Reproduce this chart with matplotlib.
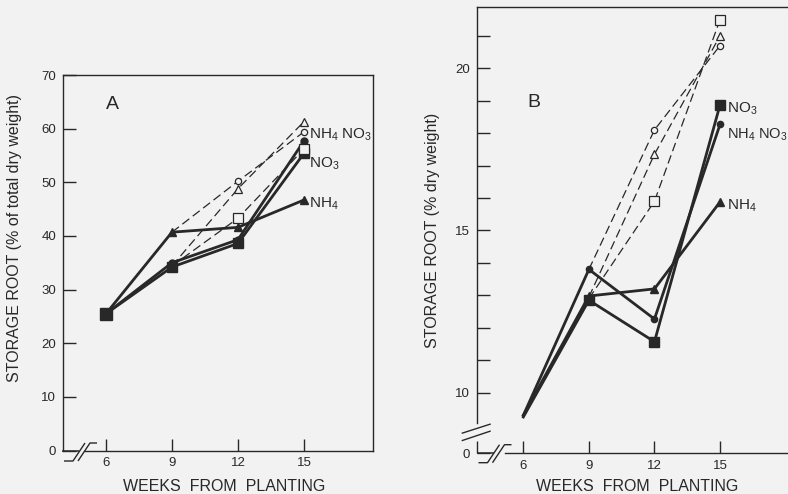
import matplotlib
matplotlib.use('Agg')
import matplotlib.pyplot as plt
from matplotlib.lines import Line2D

plt.rcParams['font.family'] = ['Liberation Sans', 'DejaVu Sans']
plt.rcParams['mathtext.default'] = 'regular'

INK = '#282828'
BG = '#f2f2f2'

# weeks from planting
weeks = [6, 9, 12, 15]
weeks_late = [9, 12, 15]

# panel A: storage root, % of total dry weight
a_no3 = [25.5, 34.2, 38.6, 55.4]
a_nh4no3 = [25.5, 35.0, 39.3, 57.7]
a_nh4 = [25.5, 40.7, 41.6, 46.7]
a_open_sq = [34.4, 43.3, 56.2]
a_open_ci = [40.7, 50.2, 59.4]
a_open_tr = [34.4, 48.8, 61.3]

# panel B: storage root, % dry weight
b_no3 = [9.25, 12.85, 11.57, 18.87]
b_nh4no3 = [9.3, 13.8, 12.27, 18.27]
b_nh4 = [9.3, 12.98, 13.2, 15.88]
b_open_sq = [12.9, 15.9, 21.5]
b_open_ci = [13.8, 18.1, 20.7]
b_open_tr = [12.95, 17.35, 21.0]

a_yticks = [0, 10, 20, 30, 40, 50, 60, 70]
b_yticks = [8.14, 10, 15, 20]
b_yticklabels = ['0', '10', '15', '20']
b_yminor = [11, 12, 13, 14, 16, 17, 18, 19, 21]
xticklabels = ['6', '9', '12', '15']

W, H = 788, 494
fig = plt.figure(figsize=(W / 100, H / 100), dpi=100, facecolor=BG)


def px_axes(l, t, r, b):
    """Axes placed by pixel edges (top-left origin)"""
    ax = fig.add_axes([l / W, 1 - b / H, (r - l) / W, (b - t) / H])
    ax.set_facecolor(BG)
    return ax


def px_line(xs, ys, lw=1.0):
    fig.add_artist(Line2D([x / W for x in xs], [1 - y / H for y in ys],
                          color=INK, lw=lw, transform=fig.transFigure,
                          solid_capstyle='butt'))


def x_break(x0, y0):
    # "//" symbol on the bottom axis, x0/y0 = corner of the axes in pixels
    px_line([x0, x0 + 17], [y0, y0], lw=1.1)
    px_line([x0 + 2, x0 + 11, x0 + 23], [y0 + 10, y0 + 10, y0 - 8], lw=1.0)
    px_line([x0 + 16, x0 + 28, x0 + 35], [y0 + 10, y0 - 8, y0 - 8], lw=1.0)


def style_axes(ax):
    ax.tick_params(direction='in', length=9, width=1.0, colors=INK,
                   labelsize=9.5, pad=5)
    ax.tick_params(which='minor', direction='in', length=9, width=1.0, colors=INK)
    for s in ax.spines.values():
        s.set_color(INK)
        s.set_linewidth(1.0)


def draw_series(ax, solid, dashed, first_marker):
    lw_solid = 2.0
    for vals, mk, ms in solid:
        every = [0, 1, 2, 3] if first_marker else [1, 2, 3]
        ax.plot(weeks, vals, '-', marker=mk, ms=ms, color=INK, mfc=INK,
                mec=INK, lw=lw_solid, markevery=every, zorder=3)
    for vals, mk, ms in dashed:
        ax.plot(weeks_late, vals, color=INK, lw=0.9, dashes=(7, 3.5), zorder=2)
        ax.plot(weeks_late[1:], vals[1:], ls='none', marker=mk, ms=ms,
                mfc=BG, mec=INK, mew=0.9, zorder=4)


# ---------------- Panel A ----------------
axA = px_axes(63, 75, 373, 450.5)
style_axes(axA)
axA.set_xlim(4.045, 18.14)
axA.set_ylim(0, 70)
axA.set_xticks(weeks)
axA.set_xticklabels(xticklabels)
axA.set_yticks(a_yticks)
axA.spines['bottom'].set_bounds(5.05, 18.14)

draw_series(axA,
            [(a_nh4, '^', 5.5), (a_nh4no3, 'o', 5), (a_no3, 's', 7)],
            [(a_open_sq, 's', 6.5), (a_open_ci, 'o', 4.5), (a_open_tr, '^', 6)],
            first_marker=True)
axA.plot(weeks[:1], a_no3[:1], 's', ms=9, color=INK, zorder=5)

axA.text(6.0, 64.5, 'A', fontsize=14, color=INK, va='center')
axA.text(15.25, 58.9, r'NH$_4$ NO$_3$', fontsize=11, color=INK, va='center')
axA.text(15.25, 53.4, r'NO$_3$', fontsize=11, color=INK, va='center')
axA.text(15.25, 45.9, r'NH$_4$', fontsize=11, color=INK, va='center')

x_break(62, 451)

fig.text(15 / W, 1 - 238 / H, 'STORAGE ROOT (% of total dry weight)',
         rotation=90, ha='center', va='center', fontsize=11.5, color=INK)
fig.text(224 / W, 1 - 486 / H, 'WEEKS  FROM  PLANTING',
         ha='center', va='center', fontsize=11.5, color=INK)

# ---------------- Panel B ----------------
axB = px_axes(477, 7, 800, 453)
style_axes(axB)
axB.set_xlim(3.88, 18.66)
axB.set_ylim(8.14, 21.89)
axB.set_xticks(weeks)
axB.set_xticklabels(xticklabels)
axB.set_yticks(b_yticks)
axB.set_yticklabels(b_yticklabels)
axB.set_yticks(b_yminor, minor=True)
axB.spines['right'].set_visible(False)
axB.spines['bottom'].set_bounds(5.16, 18.66)
axB.spines['left'].set_bounds(9.07, 21.89)

draw_series(axB,
            [(b_nh4, '^', 5.5), (b_nh4no3, 'o', 4.5), (b_no3, 's', 7)],
            [(b_open_sq, 's', 7), (b_open_ci, 'o', 4.5), (b_open_tr, '^', 6)],
            first_marker=False)

axB.text(6.2, 18.95, 'B', fontsize=14, color=INK, va='center')
axB.text(15.3, 18.75, r'NO$_3$', fontsize=11, color=INK, va='center')
axB.text(15.3, 17.95, r'NH$_4$ NO$_3$', fontsize=10.5, color=INK, va='center')
axB.text(15.3, 15.75, r'NH$_4$', fontsize=11, color=INK, va='center')

# breaks on the B axes
px_line([476.5, 476.5], [453, 441], lw=1.0)
px_line([461.7, 490.7], [433.3, 424], lw=1.0)
px_line([461.7, 490.7], [440.7, 431], lw=1.0)
x_break(476.5, 452.7)

fig.text(433 / W, 1 - 230 / H, 'STORAGE ROOT (% dry weight)',
         rotation=90, ha='center', va='center', fontsize=11.5, color=INK)
fig.text(637 / W, 1 - 486 / H, 'WEEKS  FROM  PLANTING',
         ha='center', va='center', fontsize=11.5, color=INK)

fig.savefig('out.png', dpi=100, facecolor=BG)
